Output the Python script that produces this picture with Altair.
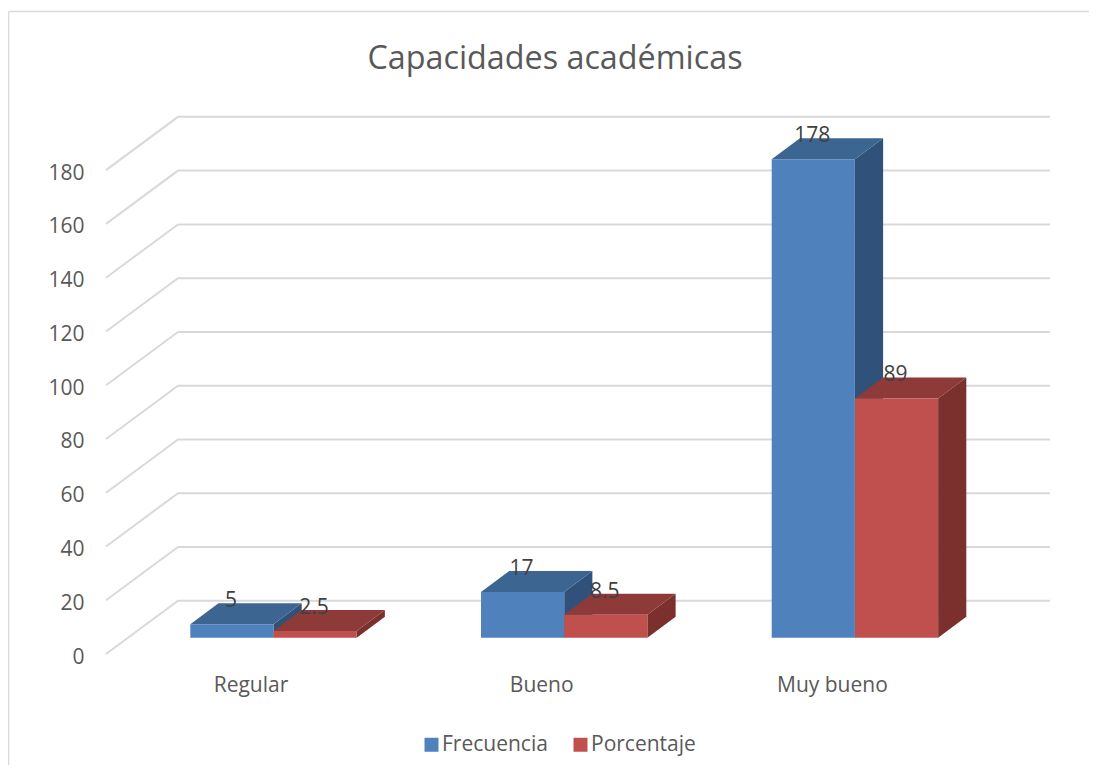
import altair as alt
import pandas as pd

# ---- values ----
categories = ["Regular", "Bueno", "Muy bueno"]
series = ["Frecuencia", "Porcentaje"]
frecuencia = [5, 17, 178]
porcentaje = [2.5, 8.5, 89]
grid_values = [0, 20, 40, 60, 80, 100, 120, 140, 160, 180]
chart_title = "Capacidades académicas"

front = {"Frecuencia": "#4F81BD", "Porcentaje": "#C0504D"}
top_c = {"Frecuencia": "#3D6591", "Porcentaje": "#8E3A38"}
side_c = {"Frecuencia": "#30527A", "Porcentaje": "#7B302E"}

# ---- geometry of the oblique projection, in data units ----
W, H = 1081, 757
PX_PER_CAT = 290.7
PX_PER_VAL = 2.688
ORIGIN_X = 190.3 - 8      # left edge of the first bar, inside the plot
ORIGIN_Y = 654 - 8        # value 0 on the front plane
BAR_W = 83.2 / PX_PER_CAT
BAR_DX = 28.2 / PX_PER_CAT
BAR_DV = 21 / PX_PER_VAL
BASE_V = (654 - 637.7) / PX_PER_VAL
WALL_L = (106 - 190.3) / PX_PER_CAT
WALL_B = (178 - 190.3) / PX_PER_CAT
WALL_R = (1050 - 190.3) / PX_PER_CAT
WALL_DV = (654 - 600.7) / PX_PER_VAL
x_domain = [-ORIGIN_X / PX_PER_CAT, (W - ORIGIN_X) / PX_PER_CAT]
y_domain = [(ORIGIN_Y - H) / PX_PER_VAL, ORIGIN_Y / PX_PER_VAL]

x_scale = alt.Scale(domain=x_domain, nice=False, zero=False)
y_scale = alt.Scale(domain=y_domain, nice=False, zero=False)
X = alt.X("x:Q", scale=x_scale, axis=None)
Y = alt.Y("y:Q", scale=y_scale, axis=None)

grid_rows = []
for v in grid_values:
    grid_rows += [
        {"v": v, "o": 0, "x": WALL_L, "y": v},
        {"v": v, "o": 1, "x": WALL_B, "y": v + WALL_DV},
        {"v": v, "o": 2, "x": WALL_R, "y": v + WALL_DV},
    ]
grid = alt.Chart(pd.DataFrame(grid_rows)).mark_line(
    color="#D9D9D9", strokeWidth=2, clip=True
).encode(x=X, y=Y, detail="v:N", order="o:Q")

axis_df = pd.DataFrame({"y": grid_values})
axis_layer = alt.Chart(axis_df).mark_point(opacity=0).encode(
    x=alt.value(0),
    y=alt.Y("y:Q", scale=y_scale, axis=alt.Axis(
        values=grid_values, orient="left", offset=-76, domain=False, ticks=False, grid=False,
        labelPadding=0, labelFont="Open Sans", labelFontSize=21, labelColor="#595959",
        labelOffset=3, title=None, labelBaseline="middle", labelOverlap=False, labelFlush=False)),
)

layers = [grid, axis_layer]
front_rows, label_rows = [], []
for s_i, (name, vals) in enumerate(zip(series, [frecuencia, porcentaje])):
    side_rows, top_rows = [], []
    for c_i, (cat, val) in enumerate(zip(categories, vals)):
        xl = c_i + s_i * BAR_W
        xr = xl + BAR_W
        low = BASE_V
        high = BASE_V + val
        side_rows += [
            {"c": cat, "x": xr, "y": low, "y2": high},
            {"c": cat, "x": xr + BAR_DX, "y": low + BAR_DV, "y2": high + BAR_DV},
        ]
        top_rows += [
            {"c": cat, "y": high, "x": xl, "x2": xr},
            {"c": cat, "y": high + BAR_DV, "x": xl + BAR_DX, "x2": xr + BAR_DX},
        ]
        front_rows.append({"c": cat, "s": name, "x": xl, "x2": xr, "y": low, "y2": high})
        label_rows.append({"x": (xl + xr) / 2, "y": high, "t": f"{val:g}"})
    layers.append(alt.Chart(pd.DataFrame(side_rows)).mark_area(
        color=side_c[name], orient="vertical").encode(
        x=X, y=alt.Y("y:Q", scale=y_scale, axis=None, stack=None), y2="y2:Q", detail="c:N"))
    layers.append(alt.Chart(pd.DataFrame(top_rows)).mark_area(
        color=top_c[name], orient="horizontal").encode(
        x=alt.X("x:Q", scale=x_scale, axis=None, stack=None), x2="x2:Q", y=Y, detail="c:N"))

fronts = alt.Chart(pd.DataFrame(front_rows)).mark_rect().encode(
    x=X, x2="x2:Q", y=Y, y2="y2:Q",
    color=alt.Color("s:N", scale=alt.Scale(domain=series, range=[front[s] for s in series]),
                    legend=alt.Legend(orient="none", legendX=413, legendY=726,
                                      direction="horizontal", title=None, symbolType="square",
                                      symbolSize=196, symbolStrokeWidth=0, labelFont="Open Sans",
                                      labelFontSize=21, labelColor="#595959", columnPadding=22,
                                      labelOffset=0)),
)
layers.append(fronts)

labels = alt.Chart(pd.DataFrame(label_rows)).mark_text(
    font="Open Sans", fontSize=21, color="#404040", dx=-1, dy=-23, baseline="middle", align="center"
).encode(x=X, y=Y, text="t:N")
layers.append(labels)

cat_df = pd.DataFrame({
    "x": [i + (251 - 190.3) / PX_PER_CAT for i in range(len(categories))],
    "y": [(654 - 686) / PX_PER_VAL] * len(categories),
    "t": categories,
})
layers.append(alt.Chart(cat_df).mark_text(
    font="Open Sans", fontSize=21, color="#595959", baseline="middle", align="center"
).encode(x=X, y=Y, text="t:N"))

border_color = "#D9D9D9"
layers.append(alt.Chart(pd.DataFrame({"a": [0]})).mark_rule(color=border_color, strokeWidth=1.5).encode(
    x=alt.value(0.5), y=alt.value(3.5), y2=alt.value(H)))
layers.append(alt.Chart(pd.DataFrame({"a": [0]})).mark_rule(color=border_color, strokeWidth=1.5).encode(
    x=alt.value(0.5), x2=alt.value(W), y=alt.value(3.5)))

chart = alt.layer(*layers).resolve_scale(x="shared", y="shared").resolve_axis(y="independent").properties(
    width=W, height=H, padding=0, background="white", autosize=alt.AutoSizeParams(type="none"),
    title=alt.TitleParams(chart_title, font="Open Sans", fontSize=32.3, fontWeight="normal",
                          color="#595959", anchor="middle", dx=6.5, dy=67, offset=0),
).configure_view(stroke=None)

chart.save("out.html", embed_options={"renderer": "svg", "actions": False})
